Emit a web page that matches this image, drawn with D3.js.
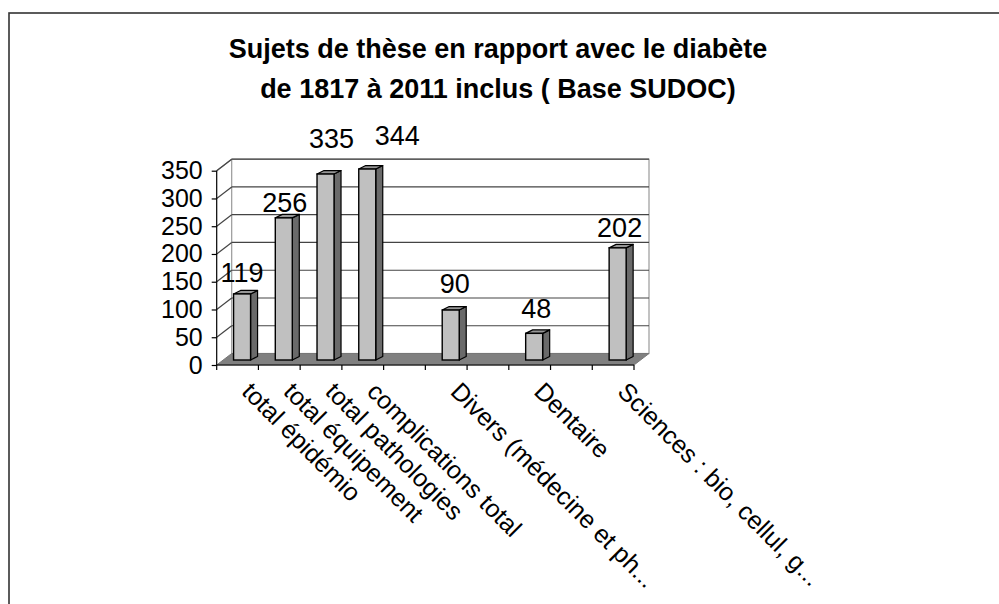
<!DOCTYPE html>
<html>
<head>
<meta charset="utf-8">
<script src="https://cdn.jsdelivr.net/npm/d3@7"></script>
<style>
  body { margin: 0; background: #fff; }
  text { font-family: "Liberation Sans", Arial, sans-serif; }
</style>
</head>
<body>
<script>
// data
var categories = ["total épidémio", "total équipement", "total pathologies", "complications total", "",
                  "Divers (médecine et ph...", "", "Dentaire", "", "Sciences : bio, cellul, g..."];
var values = [119, 256, 335, 344, null, 90, null, 48, null, 202];
var yTicks = [0, 50, 100, 150, 200, 250, 300, 350];
var titleLines = ["Sujets de thèse en rapport avec le diabète", "de 1817 à 2011 inclus ( Base SUDOC)"];

// label nudges (excel moved some of them)
var labelNudge = [[0, -6], [1, 0], [6, -20], [30, -18], [0, 0], [4, -11], [0, 0], [2, -9], [0, 0], [2, -5]];

// globals
var width = 999, height = 604;
var x0 = 216.7, x1 = 634, yBase = 365, yTop = 170.7;
var depthX = 15, depthY = -11.5;   // 3d offset of the back wall
var barW = 17, sideX = 7, sideY = -3.5;

var svg = d3.select("body").append("svg")
    .attr("width", width)
    .attr("height", height);

// outer frame (only left/top visible)
svg.append("rect")
    .attr("x", 9).attr("y", 13)
    .attr("width", 1200).attr("height", 900)
    .attr("fill", "none")
    .attr("stroke", "#333")
    .attr("stroke-width", 1.6);

// title
svg.append("g").selectAll("text")
    .data(titleLines)
    .enter().append("text")
    .attr("x", 498)
    .attr("y", function(d, i) { return 58 + i * 40; })
    .attr("text-anchor", "middle")
    .attr("font-size", "27px")
    .attr("font-weight", "bold")
    .text(function(d) { return d; });

// scales
var x = d3.scaleBand()
    .domain(d3.range(categories.length))
    .range([x0, x1])
    .padding(0);

var y = d3.scaleLinear()
    .domain([0, 350])
    .range([yBase, yTop]);

// back wall
svg.append("rect")
    .attr("x", x0 + depthX).attr("y", yTop + depthY)
    .attr("width", x1 - x0).attr("height", yBase - yTop)
    .attr("fill", "#fff")
    .attr("stroke", "#999")
    .attr("stroke-width", 1.2);

// left side wall outline (top edge)
svg.append("line")
    .attr("x1", x0).attr("y1", yTop)
    .attr("x2", x0 + depthX).attr("y2", yTop + depthY)
    .attr("stroke", "#999").attr("stroke-width", 1.2);

// gridlines on back wall + side wall
var grid = svg.append("g");
grid.selectAll("line.back")
    .data(yTicks.filter(function(d) { return d > 0; }))
    .enter().append("line")
    .attr("class", "back")
    .attr("x1", x0 + depthX).attr("x2", x1 + depthX)
    .attr("y1", function(d) { return y(d) + depthY; })
    .attr("y2", function(d) { return y(d) + depthY; })
    .attr("stroke", "#444").attr("stroke-width", 1.2);
grid.selectAll("line.side")
    .data(yTicks.filter(function(d) { return d > 0; }))
    .enter().append("line")
    .attr("class", "side")
    .attr("x1", x0).attr("x2", x0 + depthX)
    .attr("y1", function(d) { return y(d); })
    .attr("y2", function(d) { return y(d) + depthY; })
    .attr("stroke", "#444").attr("stroke-width", 1.2);

// floor
svg.append("polygon")
    .attr("points", [[x0, yBase], [x1, yBase], [x1 + depthX, yBase + depthY], [x0 + depthX, yBase + depthY]].join(" "))
    .attr("fill", "#808080")
    .attr("stroke", "#777");

// bars
var bars = svg.append("g").selectAll("g")
    .data(values.map(function(v, i) { return {v: v, i: i}; }).filter(function(d) { return d.v != null; }))
    .enter().append("g");

function barLeft(d) { return x(d.i) + x.bandwidth() / 2 - 4; }
function barTop(d) { return y(d.v) - 5; }
var barBottom = y(0) - 5;

// side face
bars.append("polygon")
    .attr("points", function(d) {
        var l = barLeft(d) + barW, t = barTop(d);
        return [[l, t], [l + sideX, t + sideY], [l + sideX, barBottom + sideY], [l, barBottom]].join(" ");
    })
    .attr("fill", "#6a6a6a")
    .attr("stroke", "#000").attr("stroke-width", 1.2).attr("stroke-linejoin", "round");
// top face
bars.append("polygon")
    .attr("points", function(d) {
        var l = barLeft(d), t = barTop(d);
        return [[l, t], [l + barW, t], [l + barW + sideX, t + sideY], [l + sideX, t + sideY]].join(" ");
    })
    .attr("fill", "#969696")
    .attr("stroke", "#000").attr("stroke-width", 1.2).attr("stroke-linejoin", "round");
// front face
bars.append("rect")
    .attr("x", barLeft)
    .attr("y", barTop)
    .attr("width", barW)
    .attr("height", function(d) { return barBottom - barTop(d); })
    .attr("fill", "#c0c0c0")
    .attr("stroke", "#000").attr("stroke-width", 1.4);

// value labels
bars.append("text")
    .attr("x", function(d) { return barLeft(d) + barW / 2 + labelNudge[d.i][0]; })
    .attr("y", function(d) { return barTop(d) - 6 + labelNudge[d.i][1]; })
    .attr("text-anchor", "middle")
    .attr("font-size", "27px")
    .text(function(d) { return d.v; });

// y axis
var yAxis = svg.append("g")
    .attr("transform", "translate(" + x0 + ",0)")
    .call(d3.axisLeft(y).tickValues(yTicks).tickSize(5).tickPadding(9));
yAxis.selectAll("text")
    .attr("font-size", "25px")
    .attr("font-family", "Liberation Sans, Arial, sans-serif")
    .attr("fill", "#000");
yAxis.selectAll("line, path").attr("stroke", "#000").attr("stroke-width", 1.2);
yAxis.select("path").attr("d", "M0," + yTop + "V" + yBase);

// x axis line + boundary ticks
svg.append("line")
    .attr("x1", x0).attr("x2", x1)
    .attr("y1", yBase).attr("y2", yBase)
    .attr("stroke", "#000").attr("stroke-width", 1.2);
svg.append("g").selectAll("line")
    .data(d3.range(categories.length + 1))
    .enter().append("line")
    .attr("x1", function(i) { return i < categories.length ? x(i) : x1; })
    .attr("x2", function(i) { return i < categories.length ? x(i) : x1; })
    .attr("y1", yBase).attr("y2", yBase + 5)
    .attr("stroke", "#000").attr("stroke-width", 1.2);

// category labels, rotated 45°
svg.append("g").selectAll("text")
    .data(categories)
    .enter().append("text")
    .attr("transform", function(d, i) {
        return "translate(" + (x(i) + x.bandwidth() / 2 + 3) + "," + (yBase + 28) + ") rotate(45)";
    })
    .attr("font-size", "25px")
    .text(function(d) { return d; });
</script>
</body>
</html>
